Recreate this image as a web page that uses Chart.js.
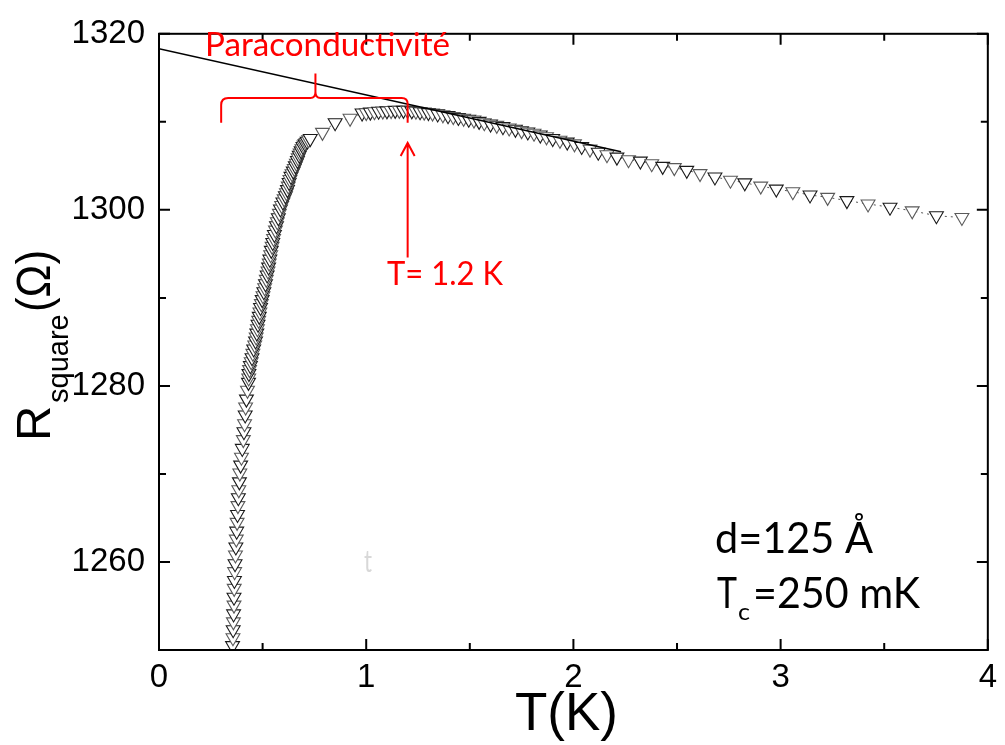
<!DOCTYPE html>
<html><head><meta charset="utf-8">
<script src="https://cdn.jsdelivr.net/npm/chart.js@4"></script>
<style>html,body{margin:0;padding:0;background:#fff}#wrap{width:1005px;height:745px}</style>
</head><body><div id="wrap"><canvas id="c" width="1005" height="745"></canvas></div>
<script>
// ---- data ----
const tempK = [
  0.355,0.357,0.358,0.359,0.360,0.362,0.362,0.363,0.364,0.365,
  0.367,0.369,0.371,0.373,0.375,0.377,0.379,0.381,0.383,0.385,
  0.388,0.390,0.394,0.398,0.402,0.407,0.410,0.413,0.416,0.418,
  0.422,0.427,0.432,0.433,0.434,0.437,0.441,0.445,0.449,0.453,
  0.457,0.462,0.466,0.469,0.472,0.475,0.478,0.481,0.484,0.487,
  0.490,0.494,0.498,0.502,0.506,0.510,0.514,0.518,0.522,0.526,
  0.529,0.532,0.535,0.539,0.542,0.546,0.549,0.553,0.557,0.562,
  0.567,0.571,0.576,0.581,0.586,0.592,0.598,0.604,0.610,0.615,
  0.620,0.624,0.628,0.632,0.637,0.642,0.648,0.653,0.658,0.663,
  0.668,0.672,0.677,0.681,0.686,0.690,0.695,0.700,0.705,0.710,
  0.715,0.722,0.730,
  0.789,0.850,0.922,
  0.98,1.00,1.02,1.04,1.06,1.08,1.10,1.12,1.14,1.16,
  1.18,1.20,1.22,1.24,1.26,1.28,1.30,1.32,1.345,1.37,
  1.395,1.42,1.445,1.47,1.495,1.52,1.545,1.57,1.60,1.63,
  1.66,1.69,1.72,1.75,1.78,1.81,1.84,1.87,1.90,1.935,
  1.97,2.005,2.04,2.08,2.12,
  2.162,2.210,2.266,2.323,2.378,2.431,2.487,2.547,2.611,2.683,
  2.758,2.827,2.904,2.979,3.059,3.142,3.227,3.320,3.422,3.528,
  3.635,3.752,3.875
];
const rSquare = [
  1250.5,1251.4,1252.3,1253.2,1254.1,1255.1,1256.0,1257.0,1257.9,1258.9,
  1259.8,1260.8,1261.7,1262.6,1263.5,1264.5,1265.4,1266.4,1267.3,1268.2,
  1269.1,1270.1,1271.0,1271.9,1272.9,1273.9,1274.8,1275.7,1276.7,1277.6,
  1278.5,1279.5,1280.4,1280.9,1281.4,1281.85,1282.3,1282.75,1283.2,1283.7,
  1284.2,1284.65,1285.1,1285.55,1286.0,1286.5,1287.0,1287.45,1287.9,1288.4,
  1288.9,1289.35,1289.8,1290.25,1290.7,1291.15,1291.6,1292.1,1292.6,1293.05,
  1293.5,1293.95,1294.4,1294.9,1295.4,1295.85,1296.3,1296.75,1297.2,1297.7,
  1298.2,1298.65,1299.1,1299.6,1300.1,1300.5,1300.9,1301.25,1301.6,1301.95,
  1302.3,1302.7,1303.1,1303.45,1303.8,1304.1,1304.4,1304.7,1305.0,1305.3,
  1305.6,1305.9,1306.2,1306.45,1306.7,1306.95,1307.2,1307.35,1307.5,1307.65,
  1307.8,1307.95,1308.1,
  1308.8,1309.9,1310.4,
  1311.0,1311.05,1311.1,1311.15,1311.2,1311.22,1311.25,1311.28,1311.3,1311.3,
  1311.3,1311.3,1311.25,1311.2,1311.15,1311.1,1311.05,1311.0,1310.9,1310.8,
  1310.7,1310.6,1310.5,1310.4,1310.3,1310.2,1310.05,1309.9,1309.75,1309.6,
  1309.45,1309.3,1309.15,1309.0,1308.85,1308.7,1308.5,1308.3,1308.1,1307.9,
  1307.7,1307.5,1307.2,1306.9,1306.55,
  1306.26,1305.99,1305.7,1305.54,1305.24,1304.94,1304.8,1304.49,1304.12,1303.74,
  1303.37,1303.07,1302.7,1302.36,1302.06,1301.69,1301.42,1301.05,1300.67,1300.3,
  1299.89,1299.33,1299.13
];
const fitT = [0, 2.23];
const fitR = [1318.3, 1306.6];
const xTicks = [0, 1, 2, 3, 4];
const xMinor = [0.5, 1.5, 2.5, 3.5];
const yTicks = [1260, 1280, 1300, 1320];
const yMinor = [1250, 1270, 1290, 1310];

const points = tempK.map((t, i) => ({x: t, y: rSquare[i]}));
const fitPts = fitT.map((t, i) => ({x: t, y: fitR[i]}));

function fitText(ctx, str, x, y, w, font, color) {
  ctx.save();
  ctx.font = font; ctx.fillStyle = color; ctx.textBaseline = 'alphabetic'; ctx.textAlign = 'left';
  const m = ctx.measureText(str).width;
  ctx.translate(x, y); ctx.scale(w / m, 1);
  ctx.fillText(str, 0, 0);
  ctx.restore();
}

const decor = {
  id: 'decor',
  afterDraw(chart) {
    const ctx = chart.ctx, a = chart.chartArea;
    const xs = chart.scales.x, ys = chart.scales.y;
    ctx.save();
    // frame
    ctx.strokeStyle = '#000'; ctx.lineWidth = 2;
    ctx.strokeRect(a.left, a.top, a.right - a.left, a.bottom - a.top);
    // inward ticks
    const tick = (v, len, axis) => {
      ctx.beginPath();
      if (axis === 'x') {
        const p = xs.getPixelForValue(v);
        ctx.moveTo(p, a.bottom); ctx.lineTo(p, a.bottom - len);
        ctx.moveTo(p, a.top); ctx.lineTo(p, a.top + len);
      } else {
        const p = ys.getPixelForValue(v);
        ctx.moveTo(a.left, p); ctx.lineTo(a.left + len, p);
        ctx.moveTo(a.right, p); ctx.lineTo(a.right - len, p);
      }
      ctx.stroke();
    };
    xTicks.forEach(v => tick(v, 11, 'x'));
    xMinor.forEach(v => tick(v, 7, 'x'));
    yTicks.forEach(v => tick(v, 11, 'y'));
    yMinor.forEach(v => tick(v, 7, 'y'));

    // axis titles
    fitText(ctx, 'T(K)', 515, 730, 103, '53px "Liberation Sans"', '#000');
    ctx.save();
    ctx.translate(50, 441); ctx.rotate(-Math.PI / 2);
    ctx.fillStyle = '#000'; ctx.textBaseline = 'alphabetic';
    ctx.font = '49px "Liberation Sans"';
    ctx.fillText('R', 0, 0);
    ctx.font = '29px "Liberation Sans"';
    ctx.fillText('square', 38, 18);
    ctx.restore();
    ctx.save();
    ctx.translate(50, 312); ctx.rotate(-Math.PI / 2);
    fitText(ctx, '(\u03A9)', 0, 0, 62, '49px "Liberation Sans"', '#000');
    ctx.restore();

    // red annotations
    const red = '#f00';
    ctx.strokeStyle = red; ctx.lineWidth = 2;
    const bx1 = xs.getPixelForValue(0.3), bx2 = xs.getPixelForValue(1.2), bxm = xs.getPixelForValue(0.755);
    const byEnd = ys.getPixelForValue(1309.9), byBar = ys.getPixelForValue(1312.7), byTip = ys.getPixelForValue(1315.5);
    ctx.beginPath();
    ctx.moveTo(bx1, byEnd);
    ctx.lineTo(bx1, byBar + 7);
    ctx.quadraticCurveTo(bx1, byBar, bx1 + 7, byBar);
    ctx.lineTo(bxm - 5, byBar);
    ctx.quadraticCurveTo(bxm, byBar, bxm, byBar - 6);
    ctx.lineTo(bxm, byTip);
    ctx.moveTo(bxm, byBar - 6);
    ctx.quadraticCurveTo(bxm, byBar, bxm + 5, byBar);
    ctx.lineTo(bx2 - 6, byBar);
    ctx.quadraticCurveTo(bx2, byBar, bx2, byBar + 6);
    ctx.lineTo(bx2, byEnd);
    ctx.stroke();
    // arrow
    const ax = xs.getPixelForValue(1.2), ay1 = ys.getPixelForValue(1294.6), ay2 = ys.getPixelForValue(1307.6);
    ctx.beginPath();
    ctx.moveTo(ax, ay1); ctx.lineTo(ax, ay2);
    ctx.moveTo(ax - 7, ay2 + 13); ctx.lineTo(ax, ay2); ctx.lineTo(ax + 7, ay2 + 13);
    ctx.stroke();
    fitText(ctx, 'Paraconductivit\u00e9', 205, 56, 245, '32px Lato', red);
    fitText(ctx, 'T= 1.2 K', 387, 285, 116, '33px Lato', red);

    // black annotations
    fitText(ctx, 'd=125 \u00c5', 715, 553, 158, '43px Lato', '#000');
    fitText(ctx, 'T', 717, 608, 20, '43px Lato', '#000');
    fitText(ctx, 'c', 738, 620, 12, '24px Lato', '#000');
    fitText(ctx, '=250 mK', 753, 608, 167, '43px Lato', '#000');
    // faint mark
    fitText(ctx, 't', 364, 572, 8, '30px Lato', '#d8d8d8');
    ctx.restore();
  }
};

new Chart(document.getElementById('c'), {
  type: 'scatter',
  data: {
    datasets: [
      {
        label: 'fit',
        data: fitPts,
        showLine: true,
        borderColor: '#000',
        borderWidth: 1.4,
        pointRadius: 0,
        pointHoverRadius: 0
      },
      {
        label: 'R_square',
        data: points,
        showLine: true,
        borderColor: '#555',
        borderWidth: 1,
        borderDash: [2, 4],
        pointStyle: 'triangle',
        pointRotation: 180,
        pointRadius: 8,
        pointBackgroundColor: '#fff',
        pointBorderColor: c => (c.dataIndex % 2 ? '#5a5a5a' : '#1a1a1a'),
        pointBorderWidth: 1.1
      }
    ]
  },
  options: {
    responsive: false,
    animation: false,
    devicePixelRatio: 1,
    layout: {padding: {left: 0, right: 14, top: 25, bottom: 0}},
    plugins: {legend: {display: false}, tooltip: {enabled: false}},
    scales: {
      x: {
        type: 'linear', min: 0, max: 4,
        afterBuildTicks: s => { s.ticks = xTicks.map(v => ({value: v})); },
        afterFit: s => { s.height = 95; },
        grid: {display: false, drawTicks: false},
        border: {display: false},
        ticks: {color: '#000', padding: 8, font: {family: 'Liberation Sans', size: 33}, maxRotation: 0,
                callback: v => String(v)}
      },
      y: {
        type: 'linear', min: 1250, max: 1320,
        afterBuildTicks: s => { s.ticks = yTicks.map(v => ({value: v})); },
        afterFit: s => { s.width = 159; },
        grid: {display: false, drawTicks: false},
        border: {display: false},
        ticks: {color: '#000', padding: 14, font: {family: 'Liberation Sans', size: 33},
                callback: v => String(v)}
      }
    }
  },
  plugins: [decor]
});
</script></body></html>
